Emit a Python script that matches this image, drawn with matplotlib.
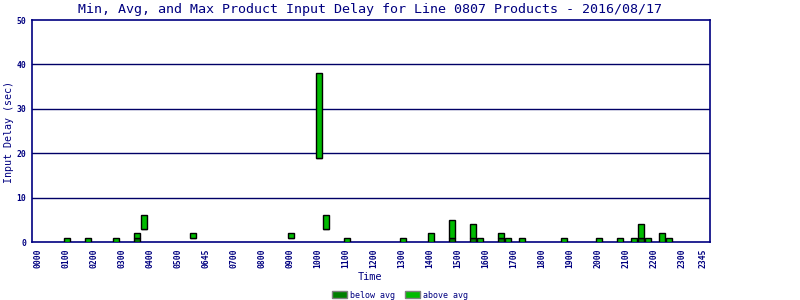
import matplotlib
matplotlib.use("Agg")
import matplotlib.pyplot as plt
from matplotlib.patches import Patch

# ---- data ----
slot_labels = [f"{h:02d}{m:02d}" for h in range(24) for m in (0, 15, 30, 45)]
tick_slots = ["0000", "0100", "0200", "0300", "0400", "0500", "0600", "0700", "0800",
              "0900", "1000", "1100", "1200", "1300", "1400", "1500", "1600", "1700",
              "1800", "1900", "2000", "2100", "2200", "2300", "2345"]
tick_texts = ["0000", "0100", "0200", "0300", "0400", "0500", "0645", "0700", "0800",
              "0900", "1000", "1100", "1200", "1300", "1400", "1500", "1600", "1700",
              "1800", "1900", "2000", "2100", "2200", "2300", "2345"]

bar_times = ["0100", "0145", "0245", "0330", "0345", "0530", "0900", "1000", "1015",
             "1100", "1300", "1400", "1445", "1530", "1545", "1630", "1645", "1715",
             "1845", "2000", "2045", "2115", "2130", "2145", "2215", "2230"]
min_delay = [0, 0, 0, 0, 3, 1, 1, 19, 3, 0, 0, 0, 0, 0, 0, 0, 0, 0, 0, 0, 0, 0, 0, 0, 0, 0]
avg_delay = [0, 0, 0, 1, 3, 1, 1, 19, 3, 0, 0, 0, 1, 1, 0, 1, 0, 0, 0, 0, 0, 0, 1, 0, 0, 0]
max_delay = [1, 1, 1, 2, 6, 2, 2, 38, 6, 1, 1, 2, 5, 4, 1, 2, 1, 1, 1, 1, 1, 1, 4, 1, 2, 1]

title = "Min, Avg, and Max Product Input Delay for Line 0807 Products - 2016/08/17"

NAVY = "#000080"
DARK = "#008000"
BRIGHT = "#00bb00"
MONO = "DejaVu Sans Mono"

fig = plt.figure(figsize=(8, 3), dpi=100)
ax = fig.add_axes([32 / 800, 58 / 300, 678 / 800, 222 / 300])

xs = [slot_labels.index(t) for t in bar_times]
below = [a - m for a, m in zip(avg_delay, min_delay)]
above = [mx - a for mx, a in zip(max_delay, avg_delay)]

ax.bar(xs, below, bottom=min_delay, width=0.75, color=DARK, edgecolor="black",
       linewidth=1, zorder=3)
ax.bar(xs, above, bottom=avg_delay, width=0.75, color=BRIGHT, edgecolor="black",
       linewidth=1, zorder=3)

ax.set_xlim(-1.0, 95.86)
ax.set_ylim(0, 50)
ax.set_yticks([0, 10, 20, 30, 40, 50])
ax.set_yticklabels(["0", "10", "20", "30", "40", "50"], fontfamily=MONO,
                   fontsize=5.8, fontweight="bold", color=NAVY)
for y in [10, 20, 30, 40]:
    ax.axhline(y, color="#000066", linewidth=1, zorder=1)

ax.set_xticks([slot_labels.index(t) - 0.2 for t in tick_slots])
ax.set_xticklabels(tick_texts, rotation=90, fontfamily=MONO, fontsize=5.8,
                   fontweight="bold", color=NAVY)
ax.tick_params(axis="both", length=0, pad=4)
ax.tick_params(axis="x", pad=5)

for s in ax.spines.values():
    s.set_color(NAVY)
    s.set_linewidth(1.2)

fig.text(370 / 800, 1 - 9 / 300, title, ha="center", va="center",
         fontfamily=MONO, fontsize=9.6, color=NAVY)
fig.text(9 / 800, 1 - 132 / 300, "Input Delay (sec)", rotation=90, ha="center",
         va="center", fontfamily=MONO, fontsize=7.2, color=NAVY)
fig.text(370 / 800, 1 - 277 / 300, "Time", ha="center", va="center",
         fontfamily=MONO, fontsize=7.4, color=NAVY)

handles = [Patch(facecolor=DARK, edgecolor="#808080", linewidth=1),
           Patch(facecolor=BRIGHT, edgecolor="#808080", linewidth=1)]
leg = fig.legend(handles, ["below avg", "above avg"], loc="center",
                 bbox_to_anchor=(400 / 800, 1 - 295 / 300), ncol=2, frameon=False,
                 prop={"family": MONO, "size": 6}, handlelength=1.8,
                 handleheight=0.9, handletextpad=0.4, columnspacing=1.2)
for t in leg.get_texts():
    t.set_color(NAVY)

fig.savefig("out.png", dpi=100)
